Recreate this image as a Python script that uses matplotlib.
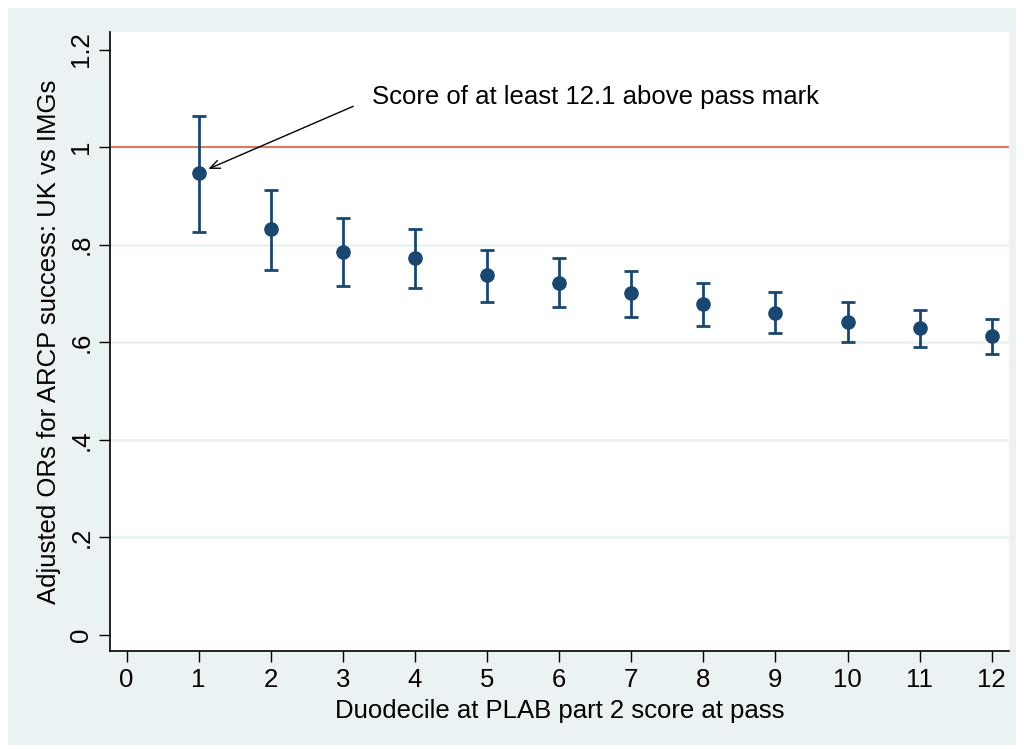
import matplotlib.pyplot as plt
from matplotlib.patches import Rectangle

plt.rcParams['font.family'] = ['Liberation Sans', 'DejaVu Sans']

# duodecile, adjusted OR and 95% CI
duodecile = [1, 2, 3, 4, 5, 6, 7, 8, 9, 10, 11, 12]
odds_ratio = [0.947, 0.832, 0.785, 0.773, 0.738, 0.721, 0.701, 0.678, 0.660, 0.641, 0.629, 0.613]
ci_upper = [1.064, 0.912, 0.855, 0.832, 0.789, 0.773, 0.746, 0.721, 0.703, 0.682, 0.666, 0.648]
ci_lower = [0.826, 0.748, 0.715, 0.711, 0.682, 0.672, 0.652, 0.633, 0.619, 0.600, 0.590, 0.576]

y_ticks = [0, 0.2, 0.4, 0.6, 0.8, 1.0, 1.2]
y_ticklabels = ['0', '.2', '.4', '.6', '.8', '1', '1.2']
x_ticks = list(range(0, 13))

navy = '#1a476f'
bg = '#eaf2f3'
fs = 18.5

fig = plt.figure(figsize=(10.24, 7.49), dpi=100, facecolor='white')
# stata-style graph region with thin white border
fig.add_artist(Rectangle((8 / 1024, 4 / 749), 1008 / 1024, 737 / 749,
                         transform=fig.transFigure, facecolor=bg,
                         edgecolor='none', zorder=-10))

ax = fig.add_axes([110 / 1024, 98 / 749, 899 / 1024, 619 / 749])
ax.set_facecolor('white')

for yv in y_ticks[1:-1]:
    ax.axhline(yv, color=bg, lw=2, zorder=1)
ax.axhline(1.0, color='#e0522a', lw=1.1, zorder=2)

yerr = [[o - l for o, l in zip(odds_ratio, ci_lower)],
        [u - o for o, u in zip(odds_ratio, ci_upper)]]
ax.errorbar(duodecile, odds_ratio, yerr=yerr, fmt='o', color=navy,
            ms=9.5, elinewidth=2, capsize=4.8, capthick=2, zorder=3)

ax.annotate('', xy=(1.10, 0.953), xytext=(3.18, 1.086),
            arrowprops=dict(arrowstyle='->,head_length=0.7,head_width=0.3',
                            color='black', lw=1))
ax.text(3.41, 1.102, 'Score of at least 12.1 above pass mark',
        fontsize=fs, va='center', ha='left')

ax.set_xlim(-0.23, 12.24)
ax.set_ylim(-0.033, 1.236)
ax.set_xticks(x_ticks)
ax.set_yticks(y_ticks)
ax.set_yticklabels(y_ticklabels, rotation=90, va='center')
ax.tick_params(axis='both', labelsize=fs, length=8, width=1, direction='out')
ax.tick_params(axis='x', pad=4)
ax.tick_params(axis='y', pad=4)

for side in ['top', 'right']:
    ax.spines[side].set_visible(False)
for side in ['left', 'bottom']:
    ax.spines[side].set_linewidth(1.2)

ax.set_xlabel('Duodecile at PLAB part 2 score at pass', fontsize=fs, labelpad=5)
ax.set_ylabel('Adjusted ORs for ARCP success: UK vs IMGs', fontsize=fs, labelpad=6)

fig.savefig('out.png', dpi=100, facecolor='white')
